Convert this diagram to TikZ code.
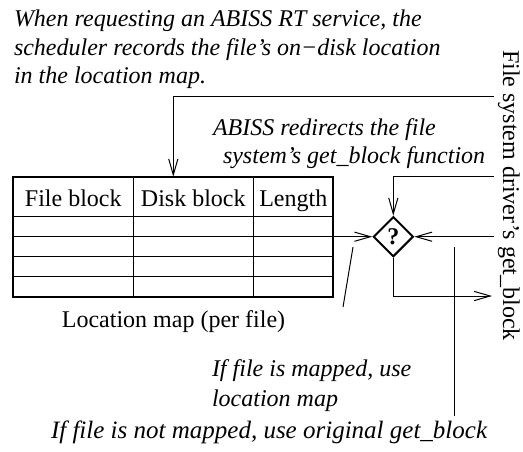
\documentclass[tikz,border=0pt]{standalone}
\usepackage{fontspec}
\setmainfont{Liberation Serif}
\usetikzlibrary{arrows.meta,shapes.geometric}

\tikzset{
  txt/.style={inner sep=0pt, outer sep=0pt, font=\fontsize{12}{14}\selectfont},
  note/.style={txt, font=\fontsize{12}{14}\selectfont\itshape, anchor=base west},
  conn/.style={line width=0.5pt},
  arr/.style={conn, -{Straight Barb[length=8pt,width=4.6pt,line width=0.5pt]}},
  grid/.style={line width=0.5pt},
  decide/.style={draw, shape=diamond, aspect=1, line width=1pt, inner sep=0pt,
    minimum width=20pt, minimum height=20pt,
    font=\fontsize{12}{14}\selectfont\bfseries},
}

\begin{document}
\begin{tikzpicture}[x=0.5pt, y=-0.5pt]
\useasboundingbox (0,0) rectangle (523,451);

% annotation at the top
\node[note] (sched1) at (14,26) {When requesting an ABISS RT service, the};
\node[note] (sched2) at (14,55) {scheduler records the file’s on−disk location};
\node[note] (sched3) at (14,83) {in the location map.};

% location map table
\node[draw, line width=1pt, inner sep=0pt, outer sep=0pt, anchor=north west,
      minimum width=160pt, minimum height=60pt] (map) at (13,176.7) {};
\foreach \y in {216.7,236.7,256.7,276.7}
  \draw[grid] (13,\y) -- (333.3,\y);
\foreach \x in {133.3,253.3}
  \draw[grid] (\x,176.7) -- (\x,296.7);
\node[txt, anchor=base] (h1) at (73.3,206.7) {File block};
\node[txt, anchor=base] (h2) at (193.3,206.7) {Disk block};
\node[txt, anchor=base] (h3) at (293.3,206.7) {Length};
\node[txt, anchor=base] (mapcap) at (173.5,327) {Location map (per file)};

% redirection annotation
\node[note] (redir1) at (213,135) {ABISS redirects the file};
\node[note] (redir2) at (223,163) {system’s get\_block function};

% decision
\node[decide] (q) at (393.3,236.7) {?};

% file system driver label
\node[txt, rotate=-90, anchor=base west] (fs) at (503,50) {File system driver’s get\_block};

% connectors
\coordinate (schedEnd) at (494,96);
\coordinate (mapTop) at (173.3,176.7);
\coordinate (fsTop) at (494,176);
\coordinate (fsIn) at (494,236.7);
\coordinate (fsOut) at (492,296);
\draw[arr] (schedEnd) -| (mapTop);
\draw[arr] (map.east |- q) -- (q);
\draw[arr] (fsTop) -| (q);
\draw[arr] (fsIn) -- (q);
\draw[arr] (q) |- (fsOut);

% pointers to the lower annotations
\coordinate (p1a) at (353,247);
\coordinate (p1b) at (343,307);
\coordinate (p2a) at (454.3,247.3);
\coordinate (p2b) at (454.3,416);
\draw[conn] (p1a) -- (p1b);
\draw[conn] (p2a) -- (p2b);

\node[note] (mapped1) at (212,376) {If file is mapped, use};
\node[note] (mapped2) at (212,406) {location map};
\node[note, font=\fontsize{12.5}{14}\selectfont\itshape] (unmapped) at (51,438)
  {If file is not mapped, use original get\_block};
\end{tikzpicture}
\end{document}
